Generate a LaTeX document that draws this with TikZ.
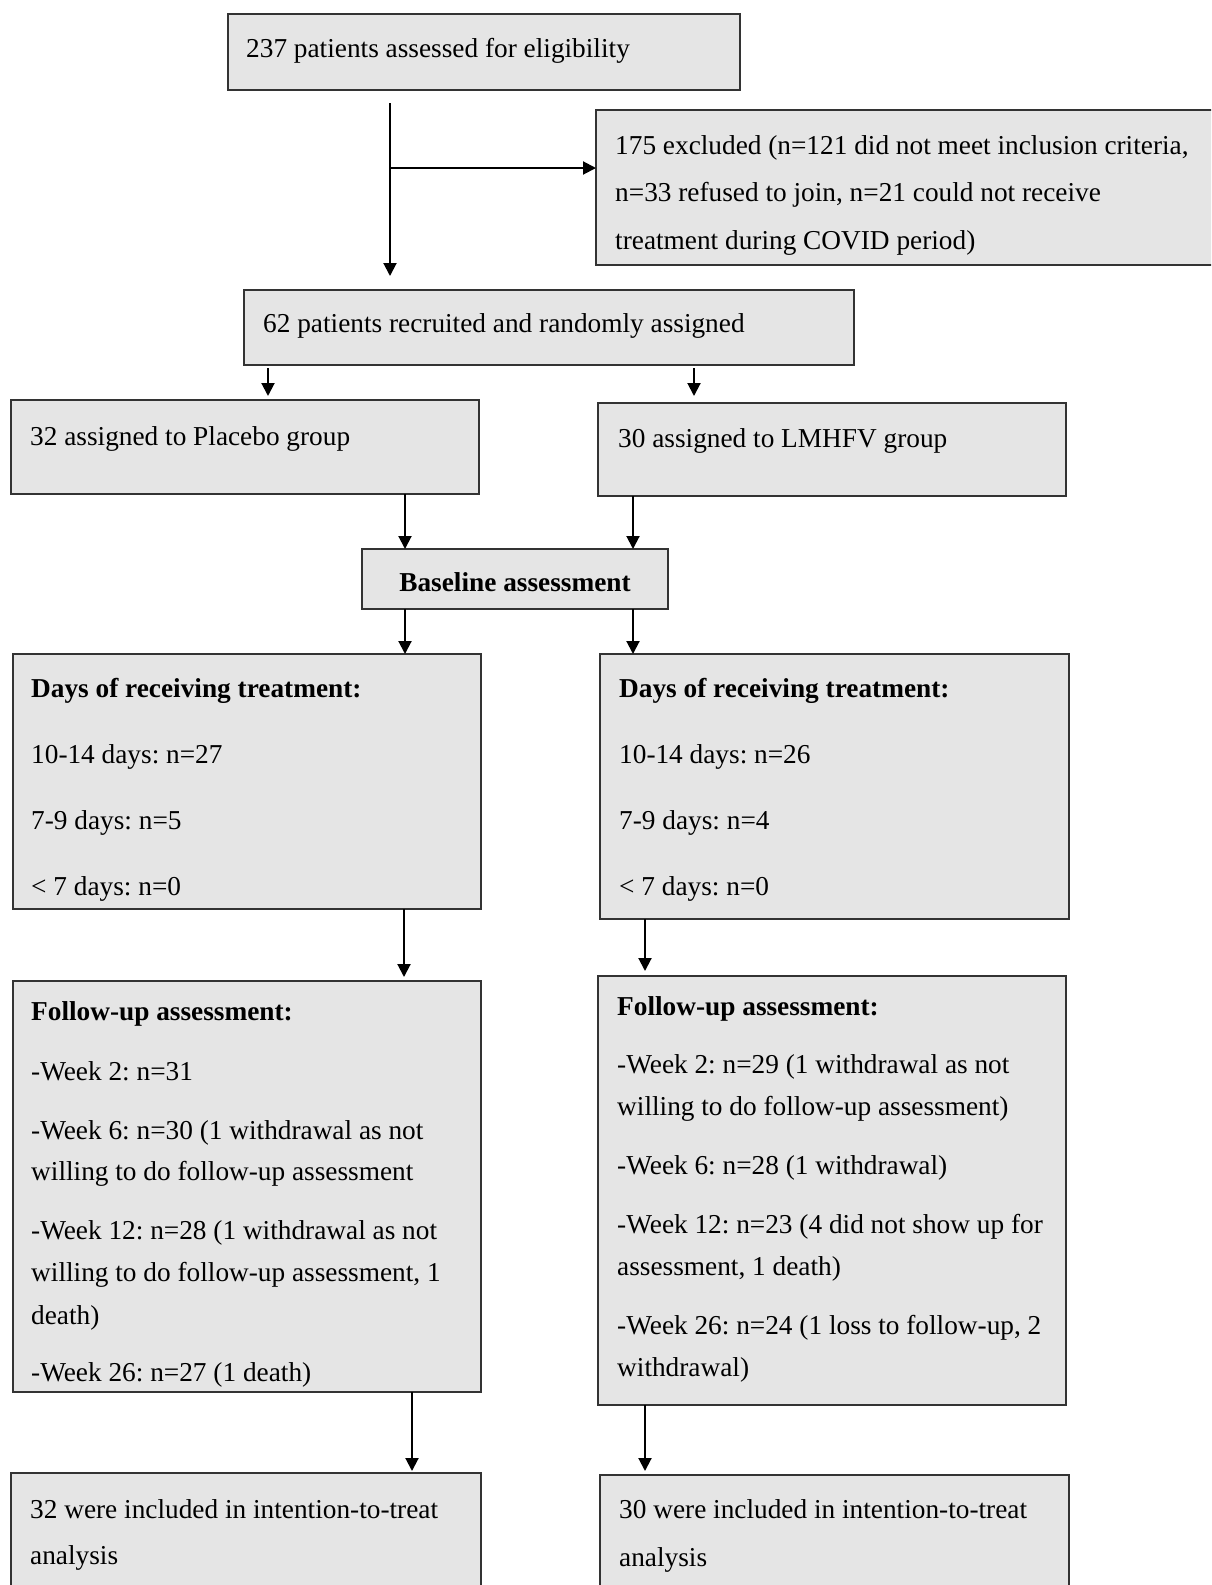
\documentclass[tikz,border=0pt]{standalone}
\usepackage{fontspec}
\setmainfont{Liberation Serif}
\usetikzlibrary{arrows.meta}
\frenchspacing
\begin{document}
\begin{tikzpicture}[x=1pt,y=-1pt,
  box/.style={draw=black!80, line width=1.8pt, fill=gray!20, inner sep=0pt, outer sep=0pt, anchor=north west},
  txt/.style={anchor=base west, inner sep=0pt, font=\fontsize{27.3}{30}\selectfont},
  btxt/.style={anchor=base, inner sep=0pt, font=\fontsize{27.3}{30}\selectfont\bfseries},
  arr/.style={line width=2pt, -{Triangle[length=13pt,width=13pt]}}]
\clip (0,0) rectangle (1211,1585);
\fill[white] (0,0) rectangle (1211,1585);
% boxes
\node[box, minimum width=512pt, minimum height=76pt] (b1) at (228,14) {};
\node[box, minimum width=634pt, minimum height=155pt] (excl) at (596,110) {};
\node[box, minimum width=610pt, minimum height=75pt] (b62) at (244,290) {};
\node[box, minimum width=468pt, minimum height=94pt] (plac) at (11,400) {};
\node[box, minimum width=468pt, minimum height=93pt] (lmh) at (598,403) {};
\node[box, minimum width=306pt, minimum height=60pt] (base) at (362,549) {};
\node[box, minimum width=468pt, minimum height=255pt] (dayl) at (13,654) {};
\node[box, minimum width=469pt, minimum height=265pt] (dayr) at (600,654) {};
\node[box, minimum width=468pt, minimum height=411pt] (ful) at (13,981) {};
\node[box, minimum width=468pt, minimum height=429pt] (fur) at (598,976) {};
\node[box, minimum width=470pt, minimum height=147pt] (ittl) at (11,1473) {};
\node[box, minimum width=469pt, minimum height=145pt] (ittr) at (600,1475) {};
% texts
\node[txt] (t1) at (246,57) {237 patients assessed for eligibility};
\node[txt] (te1) at (615,154) {175 excluded (n=121 did not meet inclusion criteria,};
\node[txt] (te2) at (615,201) {n=33 refused to join, n=21 could not receive};
\node[txt] (te3) at (615,249) {treatment during COVID period)};
\node[txt] (t62) at (263,332) {62 patients recruited and randomly assigned};
\node[txt] (tpl) at (30,445) {32 assigned to Placebo group};
\node[txt] (tlm) at (618,447) {30 assigned to LMHFV group};
\node[btxt] (tba) at (515,591) {Baseline assessment};
\node[txt, font=\fontsize{27.3}{30}\selectfont\bfseries] (tdl1) at (31,697) {Days of receiving treatment:};
\node[txt] (tdl2) at (31,763) {10-14 days: n=27};
\node[txt] (tdl3) at (31,829) {7-9 days: n=5};
\node[txt] (tdl4) at (31,895) {< 7 days: n=0};
\node[txt, font=\fontsize{27.3}{30}\selectfont\bfseries] (tdr1) at (619,697) {Days of receiving treatment:};
\node[txt] (tdr2) at (619,763) {10-14 days: n=26};
\node[txt] (tdr3) at (619,829) {7-9 days: n=4};
\node[txt] (tdr4) at (619,895) {< 7 days: n=0};
\node[txt, font=\fontsize{27.3}{30}\selectfont\bfseries] (tfl1) at (31,1020) {Follow-up assessment:};
\node[txt] (tfl2) at (31,1080) {-Week 2: n=31};
\node[txt] (tfl3) at (31,1139) {-Week 6: n=30 (1 withdrawal as not};
\node[txt] (tfl4) at (31,1180) {willing to do follow-up assessment};
\node[txt] (tfl5) at (31,1239) {-Week 12: n=28 (1 withdrawal as not};
\node[txt] (tfl6) at (31,1281) {willing to do follow-up assessment, 1};
\node[txt] (tfl7) at (31,1324) {death)};
\node[txt] (tfl8) at (31,1381) {-Week 26: n=27 (1 death)};
\node[txt, font=\fontsize{27.3}{30}\selectfont\bfseries] (tfr1) at (617,1015) {Follow-up assessment:};
\node[txt] (tfr2) at (617,1073) {-Week 2: n=29 (1 withdrawal as not};
\node[txt] (tfr3) at (617,1115) {willing to do follow-up assessment)};
\node[txt] (tfr4) at (617,1174) {-Week 6: n=28 (1 withdrawal)};
\node[txt] (tfr5) at (617,1233) {-Week 12: n=23 (4 did not show up for};
\node[txt] (tfr6) at (617,1275) {assessment, 1 death)};
\node[txt] (tfr7) at (617,1334) {-Week 26: n=24 (1 loss to follow-up, 2};
\node[txt] (tfr8) at (617,1376) {withdrawal)};
\node[txt] (til1) at (30,1518) {32 were included in intention-to-treat};
\node[txt] (til2) at (30,1564) {analysis};
\node[txt] (tir1) at (619,1518) {30 were included in intention-to-treat};
\node[txt] (tir2) at (619,1566) {analysis};
% connectors
\coordinate (s1) at (390,103);
\coordinate (e1) at (390,276);
\coordinate (br) at (390,168);
\draw[arr] (s1) -- (e1);
\draw[arr] (br) -- (excl.west |- br);
\coordinate (xa) at (268,0);
\coordinate (xb) at (694,0);
\draw[arr, shorten <=3pt, shorten >=4pt] (b62.south -| xa) -- (plac.north -| xa);
\draw[arr, shorten <=3pt, shorten >=7pt] (b62.south -| xb) -- (lmh.north -| xb);
\coordinate (xc) at (405,0);
\coordinate (xd) at (633,0);
\draw[arr] (plac.south -| xc) -- (base.north -| xc);
\draw[arr] (lmh.south -| xd) -- (base.north -| xd);
\draw[arr] (base.south -| xc) -- (dayl.north -| xc);
\draw[arr] (base.south -| xd) -- (dayr.north -| xd);
\coordinate (xe) at (404,0);
\coordinate (xf) at (645,0);
\draw[arr, shorten >=4pt] (dayl.south -| xe) -- (ful.north -| xe);
\draw[arr, shorten >=5pt] (dayr.south -| xf) -- (fur.north -| xf);
\coordinate (xg) at (412,0);
\draw[arr, shorten >=2pt] (ful.south -| xg) -- (ittl.north -| xg);
\draw[arr, shorten >=4pt] (fur.south -| xf) -- (ittr.north -| xf);
\end{tikzpicture}
\end{document}
